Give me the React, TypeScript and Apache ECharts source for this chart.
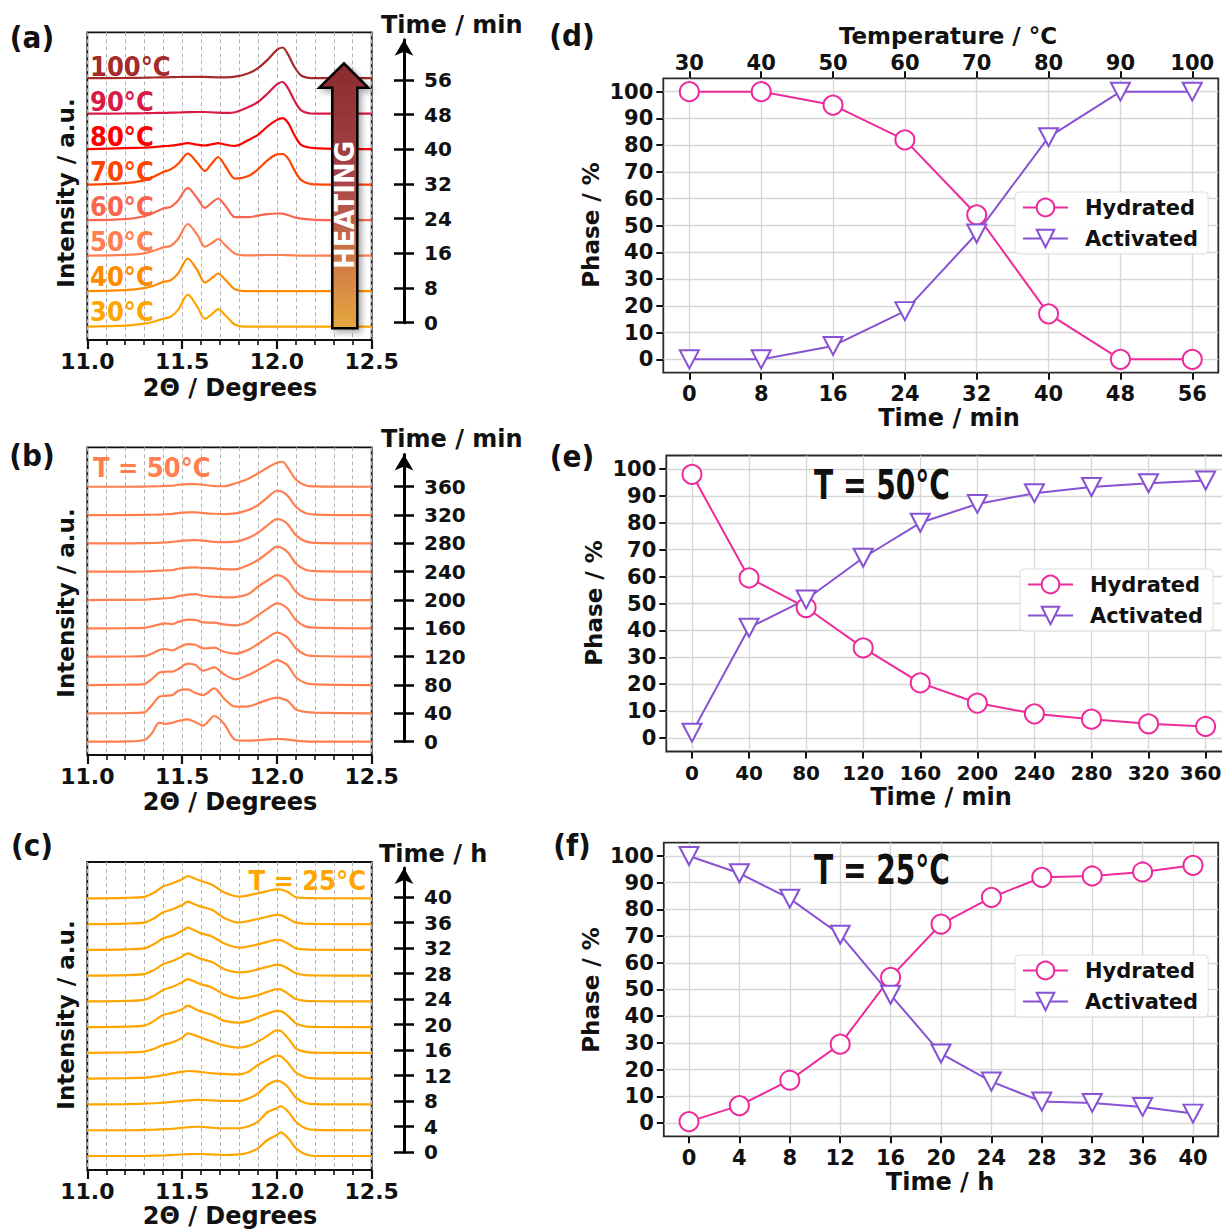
import React, { useEffect, useRef } from 'react';
import * as echarts from 'echarts';

// ---------- (a) in-situ heating, 30 → 100 °C ----------
const THETA_A = [11.0, 11.2, 11.3, 11.35, 11.4, 11.44, 11.48, 11.53, 11.58, 11.62, 11.66, 11.69, 11.73, 11.78, 11.85, 11.9, 11.95, 12.0, 12.03, 12.06, 12.09, 12.13, 12.2, 12.5];
const TEMP_LABELS_A = ['30°C', '40°C', '50°C', '60°C', '70°C', '80°C', '90°C', '100°C'];
const TEMP_COLORS_A = ['#FFA500', '#FF8C00', '#FF7F50', '#FA6550', '#FF4500', '#FF0000', '#D81B46', '#A52A2A'];
const XRD_A = [
  [0, 1, 3, 5, 8, 10, 17, 32, 20, 8, 13, 17.5, 11, 2, 0, 0, 0, 0, 0, 0, 0, 0, 0, 0],
  [0, 1, 3, 5.5, 9.3, 11, 18, 32.7, 21, 8.7, 13.5, 17.7, 11, 2, 0, 0, 0, 0, 0, 0, 0, 0, 0, 0],
  [0, 0.8, 2.3, 5, 8.3, 10, 17, 31.7, 21, 9, 13, 16.7, 10, 2, 0.3, 0.5, 0.7, 0.7, 0.7, 0.5, 0.3, 0, 0, 0],
  [0, 1, 4, 7.5, 11.7, 13.3, 20, 32.3, 22, 12.3, 18, 21.7, 14, 3, 3, 4.5, 6, 6.7, 6.5, 5, 3, 1.5, 0.3, 0],
  [0, 1.5, 4.3, 8, 12.7, 15.3, 21, 31, 22, 13.7, 22, 27.7, 18, 6, 8.7, 15.3, 24.3, 30.3, 30.7, 26, 15.3, 4.3, 0.3, 0],
  [0, 1, 1.5, 2, 3, 3.5, 4.5, 6, 4.5, 3.7, 5, 6, 4.5, 3.3, 9.3, 14.3, 22.7, 29.3, 31, 26, 15, 4, 1, 0],
  [0, 0.3, 0.5, 0.7, 0.8, 1, 1.2, 1.5, 1.7, 1.7, 1.3, 1, 0.8, 1.5, 6.7, 11.7, 20, 29.3, 31.7, 25, 14, 3, 0, 0],
  [0, 0.3, 0.5, 0.7, 0.8, 1, 1.2, 1.3, 1.3, 1.3, 1, 0.8, 0.8, 1.5, 5, 10, 18.3, 28.3, 30.7, 23.3, 12, 2.5, 0, 0],
];
const TIME_TICKS_A = [0, 8, 16, 24, 32, 40, 48, 56];

// ---------- (b) isothermal at 50 °C, every 40 min ----------
const THETA_B = [11.0, 11.2, 11.3, 11.34, 11.38, 11.41, 11.45, 11.48, 11.53, 11.57, 11.61, 11.67, 11.72, 11.78, 11.85, 11.9, 11.95, 12.0, 12.03, 12.06, 12.1, 12.15, 12.2, 12.5];
const XRD_B = [
  [0, 0.3, 1.7, 8.3, 19, 17.7, 19, 20.7, 22.3, 19.5, 16, 25.7, 18.3, 2, 1, 1.5, 2.3, 2.7, 2.5, 2, 1, 0.3, 0, 0],
  [0, 0.3, 1, 8, 16.7, 17.5, 18.3, 22.7, 24, 20.5, 18.3, 25, 15, 6.7, 7, 10, 13.5, 15.7, 14.5, 12, 4, 1.5, 0.7, 0],
  [0, 0.3, 1, 6, 12.5, 13.3, 13.5, 16, 21.5, 20, 14.3, 17.7, 11, 5.7, 10, 15, 20, 25, 23, 19, 7.7, 2, 0.7, 0],
  [0, 0.2, 0.5, 3, 6.7, 7.7, 6.3, 9, 12.5, 12, 8.3, 9, 5, 3, 7, 12.7, 19, 24, 22.5, 18.5, 8.3, 2, 0.7, 0],
  [0, 0.2, 0.5, 2, 4, 5, 4.3, 6.5, 8.7, 8.5, 6, 5.7, 4, 3, 6.7, 13.3, 19.5, 25, 23.5, 19, 8.3, 2, 0.7, 0],
  [0, 0.2, 0.3, 1, 1.5, 1.7, 2.3, 4, 5.5, 6, 4.3, 3.3, 2.7, 3, 6, 13.3, 19.5, 25, 23.5, 19, 8.3, 2, 0.5, 0],
  [0, 0, 0.2, 0.5, 1, 1.2, 1.7, 3, 4, 4.3, 3.7, 3.3, 2.5, 2.3, 6.7, 11.7, 18.5, 25, 23.5, 19, 8.3, 2, 0.5, 0],
  [0, 0, 0.2, 0.4, 0.7, 1, 1.5, 2.3, 3, 3.3, 2.7, 1.5, 1.3, 1.7, 5.5, 10.7, 18, 24.3, 23, 18.5, 8.3, 2, 0.5, 0],
  [0, 0, 0.2, 0.3, 0.5, 0.8, 1.2, 2, 2.7, 2.7, 2, 1.3, 1, 1.7, 5, 10, 17.5, 24.3, 23, 18.5, 8.3, 2, 0.5, 0],
  [0, 0, 0.2, 0.3, 0.5, 0.8, 1, 2, 2.7, 2.7, 2, 0.7, 0.5, 3.3, 8, 13.3, 19, 24, 25, 18.3, 7.3, 1.5, 0.3, 0],
];
const TIME_TICKS_B = [0, 40, 80, 120, 160, 200, 240, 280, 320, 360];

// ---------- (c) isothermal at 25 °C, every 4 h ----------
const THETA_C = [11.0, 11.2, 11.3, 11.35, 11.4, 11.45, 11.5, 11.53, 11.57, 11.6, 11.66, 11.72, 11.8, 11.85, 11.9, 11.95, 12.0, 12.02, 12.06, 12.1, 12.15, 12.2, 12.5];
const XRD_C = [
  [0, 0, 0, 0.3, 0.5, 1, 1.5, 1.8, 2, 2, 1.5, 1, 1.7, 3.3, 7.7, 16, 21, 23.7, 17.7, 7.7, 1.7, 0, 0],
  [0, 0, 0.3, 0.5, 1, 1.5, 2.5, 3, 3.5, 3.5, 2.5, 2, 2, 4, 8.5, 18, 22, 24, 18.5, 8.5, 2, 0.3, 0],
  [0, 0.3, 0.8, 1.2, 1.8, 2.5, 3.5, 4, 4.5, 4.5, 4, 3.5, 3.5, 6, 11, 19.5, 23.5, 23, 17, 6.8, 1.5, 0.3, 0],
  [0, 0.5, 1, 2, 3.5, 5.3, 7, 7.7, 7.3, 6.7, 5.3, 4.8, 4.3, 7, 13.7, 19, 23, 22.5, 15.5, 6.3, 1.5, 0.3, 0],
  [0, 0.5, 1.3, 4, 8, 10.6, 15, 19.6, 17.5, 15.3, 11.3, 7.5, 5.3, 7, 11.3, 17, 22.6, 22, 14.5, 4.6, 1, 0.3, 0],
  [0, 0.5, 1.5, 6, 12.2, 14.5, 18, 21.5, 18, 15.5, 12.2, 6.5, 4.5, 6, 9.8, 13.5, 16.2, 16, 11, 3.8, 0.8, 0.2, 0],
  [0, 0.5, 1.5, 5.5, 11.3, 14.7, 19, 22.3, 19.5, 17, 13.7, 7, 3, 4, 6.3, 9.5, 12.3, 12, 7.5, 2.3, 0.5, 0.2, 0],
  [0, 0.5, 1.5, 5.5, 11.3, 14.7, 19, 22.3, 19, 16.7, 13.3, 6.7, 3.3, 4, 6.3, 8.8, 10.7, 10.5, 6.8, 2.3, 0.5, 0.2, 0],
  [0, 0.5, 1.5, 5.5, 11.5, 14.2, 19, 22.2, 19, 16.5, 13.2, 6.5, 2.2, 3.5, 5.5, 8, 9.9, 9.7, 6, 1.5, 0.4, 0.1, 0],
  [0, 0.5, 1.5, 5.5, 11.8, 14.8, 19, 22.4, 19.5, 17.4, 14.1, 6.4, 1.4, 3, 5.1, 7.3, 9.1, 9, 5.3, 1.4, 0.3, 0.1, 0],
  [0, 0.5, 1.5, 5.5, 11.7, 15, 19, 22.3, 19.5, 17.3, 13.3, 6, 1.7, 3, 5, 7.2, 9, 8.8, 6, 1, 0.3, 0.1, 0],
];
const TIME_TICKS_C = [0, 4, 8, 12, 16, 20, 24, 28, 32, 36, 40];

// ---------- (d)–(f) phase fractions ----------
const TIME_D = [0, 8, 16, 24, 32, 40, 48, 56];
const TEMP_D = [30, 40, 50, 60, 70, 80, 90, 100];
const HYD_D = [100, 100, 95, 82, 54, 17, 0, 0];
const ACT_D = [0, 0, 5, 18, 47, 83, 100, 100];

const TIME_E = [0, 40, 80, 120, 160, 200, 240, 280, 320, 360];
const HYD_E = [98, 59.5, 48.5, 33.5, 20.5, 13, 9, 7, 5.3, 4.3];
const ACT_E = [2, 41, 51.5, 67, 80, 87, 91, 93.3, 94.7, 95.7];

const TIME_F = [0, 4, 8, 12, 16, 20, 24, 28, 32, 36, 40];
const HYD_F = [0.5, 6.5, 16, 29.5, 54.5, 74.5, 84.5, 92, 92.5, 94, 96.5];
const ACT_F = [100, 93.5, 84, 70.5, 48, 26, 15.5, 8, 7.5, 6, 3.5];

const PHASE_TICKS = [0, 10, 20, 30, 40, 50, 60, 70, 80, 90, 100];

// ---------- styling ----------
const FONT = '"DejaVu Sans", sans-serif';
const COND = '"DejaVu Sans Condensed", "DejaVu Sans", sans-serif';
const INK = '#111111';
const PINK = '#EE2A9B';
const PURPLE = '#8752D3';
const COLOR_B = '#FF7F50';
const COLOR_C = '#FFA500';

// vertical stacking step between patterns (a.u.)
const STEP_A = 35.5;
const STEP_B = 28.33;
const STEP_C = 25.77;

// time-arrow grids: bottom edge sits on the 0 tick, top edge on the arrow
const TIME_GRID_A = { top: 39.8, height: 282.9 };
const TIME_GRID_B = { top: 454.5, height: 287 };
const TIME_GRID_C = { top: 868, height: 284 };
const TIME_MAX_A = 282.9 / (242.7 / 56);
const TIME_MAX_B = 287 / (255 / 360);
const TIME_MAX_C = 284 / (255 / 40);

const GRIDS = [
  { left: 87.3, top: 32.3, width: 284.4, height: 307.7 }, // 0 a
  { left: 380, width: 24, ...TIME_GRID_A }, // 1 a time (outer ticks, labels)
  { left: 87.3, top: 447.3, width: 284.4, height: 307.7 }, // 2 b
  { left: 380, width: 24, ...TIME_GRID_B }, // 3 b time
  { left: 87.3, top: 862, width: 284.4, height: 308 }, // 4 c
  { left: 380, width: 24, ...TIME_GRID_C }, // 5 c time
  { left: 663.3, top: 78.3, width: 555, height: 294.4 }, // 6 d
  { left: 666.3, top: 455.5, width: 565, height: 296 }, // 7 e
  { left: 663.8, top: 842.6, width: 554.4, height: 293.7 }, // 8 f
  { left: 380, width: 24, ...TIME_GRID_A }, // 9 a time (inner ticks)
  { left: 380, width: 24, ...TIME_GRID_B }, // 10 b time (inner ticks)
  { left: 380, width: 24, ...TIME_GRID_C }, // 11 c time (inner ticks)
];
const FRAMED = [0, 2, 4, 6, 7, 8];

const tickLabel = (size: number) => ({
  fontSize: size,
  fontWeight: 'bold' as const,
  fontFamily: FONT,
  color: INK,
});

function thetaAxis(gridIndex: number) {
  return {
    gridIndex,
    type: 'value',
    min: 11,
    max: 12.5,
    interval: 0.5,
    axisLine: { show: false, onZero: false },
    axisTick: { show: true, length: 9, lineStyle: { width: 2.2, color: INK } },
    minorTick: { show: true, splitNumber: 5, length: 5, lineStyle: { width: 1.6, color: INK } },
    splitLine: { show: true, lineStyle: { type: [4, 3], color: '#b3b3b3', width: 1 } },
    minorSplitLine: { show: true, lineStyle: { type: [4, 3], color: '#b3b3b3', width: 1 } },
    axisLabel: { ...tickLabel(22), margin: 10, formatter: (v: number) => v.toFixed(1) },
  };
}

function hiddenX(gridIndex: number) {
  return { gridIndex, type: 'value', min: 0, max: 1, show: false, axisLine: { onZero: false } };
}

function traceY(gridIndex: number, min: number, max: number) {
  return { gridIndex, type: 'value', min, max, show: false, axisLine: { onZero: false } };
}

// time scale drawn as an arrow with ticks crossing the line
function timeAxisOuter(gridIndex: number, max: number, ticks: number[]) {
  return {
    gridIndex,
    type: 'value',
    position: 'right',
    min: 0,
    max,
    axisLine: {
      show: true,
      onZero: false,
      symbol: ['none', 'arrow'],
      symbolSize: [14, 16],
      lineStyle: { color: '#000', width: 3 },
    },
    axisTick: { show: true, customValues: ticks, length: 10, lineStyle: { color: '#000', width: 2.5 } },
    axisLabel: { ...tickLabel(20), customValues: ticks, margin: 20 },
    splitLine: { show: false },
  };
}

function timeAxisInner(gridIndex: number, max: number, ticks: number[]) {
  return {
    gridIndex,
    type: 'value',
    position: 'right',
    min: 0,
    max,
    axisLine: { show: false, onZero: false },
    axisTick: { show: true, inside: true, customValues: ticks, length: 10, lineStyle: { color: '#000', width: 2.5 } },
    axisLabel: { show: false },
    splitLine: { show: false },
  };
}

function phaseX(gridIndex: number, min: number, max: number, ticks: number[], fontSize = 21) {
  const last = ticks[ticks.length - 1];
  return {
    gridIndex,
    type: 'value',
    min,
    max,
    axisLine: { show: false, onZero: false },
    axisTick: { show: true, customValues: ticks, length: 7, lineStyle: { width: 2, color: INK } },
    axisLabel: {
      ...tickLabel(fontSize),
      customValues: ticks,
      margin: 11,
      // the last label of a frame that runs to the page edge is nudged inward
      formatter: (v: number) => (max > 370 && v === last ? `{edge|${v}}` : `${v}`),
      rich: { edge: { ...tickLabel(fontSize), padding: [0, 10, 0, 0] } },
    },
    splitLine: { show: true, lineStyle: { color: '#d6d6d6', width: 1.3 } },
  };
}

function phaseY(gridIndex: number) {
  return {
    gridIndex,
    type: 'value',
    min: -5,
    max: 105,
    axisLine: { show: false, onZero: false },
    axisTick: { show: true, customValues: PHASE_TICKS, length: 7, lineStyle: { width: 2, color: INK } },
    axisLabel: { ...tickLabel(21), customValues: PHASE_TICKS, margin: 10 },
    splitLine: { show: true, lineStyle: { color: '#d6d6d6', width: 1.3 } },
  };
}

function stacked(theta: number[], rows: number[][], step: number, colors: string[], xAxisIndex: number, yAxisIndex: number) {
  return rows.map((row, k) => ({
    type: 'line',
    xAxisIndex,
    yAxisIndex,
    smooth: 0.3,
    showSymbol: false,
    silent: true,
    lineStyle: { width: 2.2, color: colors[k] },
    data: theta.map((t, i) => [t, k * step + row[i]]),
  }));
}

function phaseSeries(name: string, times: number[], values: number[], xAxisIndex: number, yAxisIndex: number) {
  const hyd = name === 'Hydrated';
  const color = hyd ? PINK : PURPLE;
  return {
    type: 'line',
    name,
    xAxisIndex,
    yAxisIndex,
    symbol: hyd ? 'circle' : 'triangle',
    symbolSize: hyd ? 19 : [19, 18],
    symbolRotate: hyd ? 0 : 180,
    showAllSymbol: true,
    lineStyle: { width: 2, color },
    itemStyle: { color: '#ffffff', borderColor: color, borderWidth: 2 },
    data: times.map((t, i) => [t, values[i]]),
  };
}

function legendAt(left: number, top: number) {
  return {
    data: ['Hydrated', 'Activated'],
    orient: 'vertical',
    left,
    top,
    itemWidth: 45,
    itemHeight: 22,
    itemGap: 10,
    padding: [5, 10, 5, 7],
    backgroundColor: 'rgba(255,255,255,0.9)',
    borderColor: '#dddddd',
    borderWidth: 1,
    borderRadius: 4,
    selectedMode: false,
    textStyle: { fontSize: 21, fontWeight: 'bold', fontFamily: FONT, color: INK, padding: [0, 0, 0, 12] },
  };
}

function label(text: string, x: number, y: number, font: string, opts: any = {}) {
  return {
    type: 'text',
    x,
    y,
    z: 30,
    rotation: opts.rotation || 0,
    scaleX: opts.scaleX || 1,
    style: {
      text,
      font,
      fill: opts.color || INK,
      align: opts.align || 'center',
      verticalAlign: 'middle',
    },
  };
}

export default function App() {
  const ref = useRef<HTMLDivElement>(null);

  useEffect(() => {
    if (!ref.current) return;
    const chart = echarts.init(ref.current, undefined, { renderer: 'svg' });

    const grid = GRIDS.map((g, i) => ({
      ...g,
      containLabel: false,
      show: FRAMED.includes(i),
      borderColor: i >= 6 && i <= 8 ? '#2a2a2a' : '#111',
      borderWidth: 1.8,
      backgroundColor: 'transparent',
    }));

    const xAxis = [
      thetaAxis(0), // 0
      hiddenX(1), // 1
      thetaAxis(2), // 2
      hiddenX(3), // 3
      thetaAxis(4), // 4
      hiddenX(5), // 5
      phaseX(6, -2.9, 58.9, TIME_D), // 6
      {
        // 7: temperature scale along the top of (d)
        gridIndex: 6,
        type: 'value',
        position: 'top',
        min: 26.375,
        max: 103.625,
        axisLine: { show: false, onZero: false },
        axisTick: { show: true, customValues: TEMP_D, length: 7, lineStyle: { width: 2, color: INK } },
        axisLabel: { ...tickLabel(21), customValues: TEMP_D, margin: 5 },
        splitLine: { show: false },
      },
      phaseX(7, -18, 378, TIME_E, 20), // 8
      phaseX(8, -2, 42, TIME_F), // 9
      hiddenX(9), // 10
      hiddenX(10), // 11
      hiddenX(11), // 12
    ];

    const yAxis = [
      traceY(0, -13.3, 294.4), // 0
      timeAxisOuter(1, TIME_MAX_A, TIME_TICKS_A), // 1
      traceY(2, -13.3, 294.4), // 2
      timeAxisOuter(3, TIME_MAX_B, TIME_TICKS_B), // 3
      traceY(4, -14, 294), // 4
      timeAxisOuter(5, TIME_MAX_C, TIME_TICKS_C), // 5
      phaseY(6), // 6
      phaseY(7), // 7
      phaseY(8), // 8
      timeAxisInner(9, TIME_MAX_A, TIME_TICKS_A), // 9
      timeAxisInner(10, TIME_MAX_B, TIME_TICKS_B), // 10
      timeAxisInner(11, TIME_MAX_C, TIME_TICKS_C), // 11
    ];

    const series: any[] = [
      ...stacked(THETA_A, XRD_A, STEP_A, TEMP_COLORS_A, 0, 0),
      ...stacked(THETA_B, XRD_B, STEP_B, XRD_B.map(() => COLOR_B), 2, 2),
      ...stacked(THETA_C, XRD_C, STEP_C, XRD_C.map(() => COLOR_C), 4, 4),
      phaseSeries('Hydrated', TIME_D, HYD_D, 6, 6),
      phaseSeries('Activated', TIME_D, ACT_D, 6, 6),
      phaseSeries('Hydrated', TIME_E, HYD_E, 8, 7),
      phaseSeries('Activated', TIME_E, ACT_E, 8, 7),
      phaseSeries('Hydrated', TIME_F, HYD_F, 9, 8),
      phaseSeries('Activated', TIME_F, ACT_F, 9, 8),
    ];

    const bold = (px: number) => `bold ${px}px ${FONT}`;
    const cond = (px: number) => `bold ${px}px ${COND}`;

    const graphic: any[] = [
      // panel letters
      label('(a)', 32, 37, cond(31)),
      label('(b)', 32, 455, cond(31)),
      label('(c)', 32, 845, cond(31)),
      label('(d)', 572, 35, cond(31)),
      label('(e)', 572, 456, cond(31)),
      label('(f)', 572, 845, cond(31)),
      // XRD axis titles
      label('Intensity / a.u.', 66, 193, bold(23), { rotation: Math.PI / 2 }),
      label('Intensity / a.u.', 66, 603, bold(23), { rotation: Math.PI / 2 }),
      label('Intensity / a.u.', 66, 1015, bold(23), { rotation: Math.PI / 2 }),
      label('2Θ / Degrees', 230, 388, bold(24)),
      label('2Θ / Degrees', 230, 802, bold(24)),
      label('2Θ / Degrees', 230, 1216, bold(24)),
      label('Time / min', 381, 25, bold(24), { align: 'left' }),
      label('Time / min', 381, 439, bold(24), { align: 'left' }),
      label('Time / h', 379, 854, bold(24), { align: 'left' }),
      // phase axis titles
      label('Phase / %', 591, 225, bold(23), { rotation: Math.PI / 2 }),
      label('Phase / %', 594, 603, bold(23), { rotation: Math.PI / 2 }),
      label('Phase / %', 591, 990, bold(23), { rotation: Math.PI / 2 }),
      label('Time / min', 949, 418, bold(24)),
      label('Time / min', 941, 797, bold(24)),
      label('Time / h', 940, 1182, bold(24)),
      label('Temperature / °C', 948, 36, bold(23)),
      // isotherm captions
      label('T = 50°C', 93, 467, cond(27), { color: COLOR_B, align: 'left' }),
      label('T = 25°C', 366, 880, cond(27), { color: COLOR_C, align: 'right' }),
      label('T = 50°C', 882, 485, cond(40), { scaleX: 0.78 }),
      label('T = 25°C', 882, 870, cond(40), { scaleX: 0.78 }),
      // heating arrow
      {
        type: 'polygon',
        z: 25,
        shape: {
          points: [
            [344, 63.3],
            [368.3, 87.7],
            [357.3, 87.7],
            [357.3, 328.3],
            [332.3, 328.3],
            [332.3, 87.7],
            [319.3, 87.7],
          ],
        },
        style: {
          fill: new echarts.graphic.LinearGradient(0, 0, 0, 1, [
            { offset: 0, color: '#8A2B2F' },
            { offset: 0.45, color: '#A9454A' },
            { offset: 0.75, color: '#D07A46' },
            { offset: 1, color: '#E6A83F' },
          ]),
          stroke: '#000',
          lineWidth: 2.5,
          shadowBlur: 6,
          shadowColor: 'rgba(0,0,0,0.35)',
          shadowOffsetX: 3,
          shadowOffsetY: 3,
        },
      },
      label('HEATING', 345, 205, bold(26), { rotation: Math.PI / 2, color: '#ffffff' }),
    ];

    // temperature tags at the left end of each pattern in (a)
    TEMP_LABELS_A.forEach((t, k) => {
      graphic.push(label(t, 90, 311.7 - k * 35, cond(27), { color: TEMP_COLORS_A[k], align: 'left' }));
    });

    chart.setOption({
      animation: false,
      backgroundColor: '#ffffff',
      grid,
      xAxis,
      yAxis,
      series,
      legend: [legendAt(1015, 192), legendAt(1020, 569), legendAt(1015, 955)],
      graphic,
    });

    return () => chart.dispose();
  }, []);

  // the canvas runs slightly past the right edge so panel (e) keeps its full frame width
  return (
    <div
      ref={ref}
      style={{ position: 'fixed', left: 0, top: 0, width: 1240, height: 1230, background: '#fff' }}
    />
  );
}
